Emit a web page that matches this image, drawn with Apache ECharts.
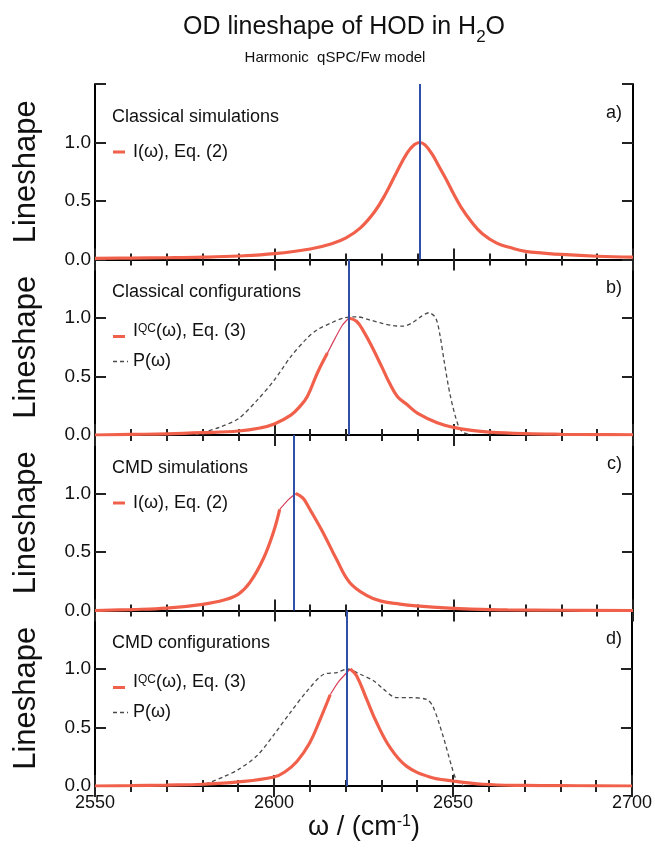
<!DOCTYPE html>
<html>
<head>
<meta charset="utf-8">
<script src="https://cdn.jsdelivr.net/npm/echarts@6/dist/echarts.min.js"></script>
<style>
  html, body { margin: 0; padding: 0; background: #fff; }
  #chart { width: 655px; height: 851px; }
</style>
</head>
<body>
<div id="chart"></div>
<script>
// ---- data ----
var panelTitles = ['Classical simulations', 'Classical configurations', 'CMD simulations', 'CMD configurations'];
var panelLetters = ['a)', 'b)', 'c)', 'd)'];
var xTicks = [2550, 2600, 2650, 2700];
var yTicks = [0.0, 0.5, 1.0];
var peakFreq = [2640.5, 2620.7, 2605.4, 2620.2];   // blue vertical lines
// stretch just left of each peak where the red curve is drawn thin in the figure
var thinFrom = [null, 2614.8, 2601.5, 2615.7];
var thinTo   = [null, 2620.8, 2606, 2621.3];

// a) classical simulations, I(w)
var aFreq = [2550, 2560, 2570, 2580, 2590, 2600, 2610, 2616, 2620, 2624, 2628, 2631, 2634, 2637, 2639, 2640.5, 2642, 2644, 2646, 2648, 2650, 2652, 2655, 2658, 2662, 2666, 2670, 2675, 2680, 2690, 2700];
var aI    = [0.01, 0.012, 0.015, 0.02, 0.03, 0.05, 0.09, 0.135, 0.185, 0.27, 0.41, 0.56, 0.74, 0.91, 0.98, 1.0, 0.98, 0.90, 0.79, 0.68, 0.56, 0.45, 0.32, 0.22, 0.14, 0.10, 0.07, 0.055, 0.043, 0.028, 0.02];

// b) classical configurations, I^QC(w) and P(w)
var bFreqI = [2550, 2560, 2570, 2580, 2590, 2596, 2600, 2604.6, 2607, 2609.2, 2612, 2614.8, 2617, 2619, 2620.8, 2623, 2625, 2626.8, 2630, 2632, 2634.3, 2637, 2640, 2645.4, 2650, 2655, 2660, 2670, 2680, 2690, 2700];
var bI     = [0.0, 0.005, 0.01, 0.02, 0.034, 0.06, 0.094, 0.17, 0.24, 0.33, 0.53, 0.70, 0.83, 0.94, 1.0, 0.97, 0.88, 0.78, 0.58, 0.45, 0.33, 0.26, 0.185, 0.105, 0.065, 0.04, 0.025, 0.012, 0.006, 0.003, 0.002];
var bFreqP = [2578, 2580, 2585, 2590, 2595.3, 2600, 2604.6, 2609.2, 2612, 2616, 2619.4, 2623, 2627, 2630, 2633, 2636, 2638.5, 2640.8, 2643.1, 2645, 2646.2, 2647.3, 2649.1, 2651.4, 2652.8, 2655];
var bP     = [0.0, 0.02, 0.07, 0.14, 0.30, 0.47, 0.67, 0.83, 0.90, 0.96, 1.0, 1.01, 0.98, 0.955, 0.935, 0.93, 0.96, 1.01, 1.045, 1.0, 0.85, 0.64, 0.33, 0.07, 0.02, 0.0];

// c) CMD simulations, I(w)
var cFreq = [2550, 2560, 2570, 2580, 2586, 2590, 2593.2, 2596.9, 2599.7, 2601.5, 2604, 2606, 2608, 2609.9, 2613.6, 2617.3, 2621, 2625.7, 2629.8, 2635, 2639.6, 2648.8, 2655, 2665, 2680, 2700];
var cI    = [0.0, 0.008, 0.02, 0.053, 0.09, 0.14, 0.24, 0.44, 0.665, 0.865, 0.95, 1.0, 0.96, 0.865, 0.665, 0.44, 0.24, 0.13, 0.08, 0.055, 0.04, 0.02, 0.012, 0.005, 0.002, 0.0];

// d) CMD configurations, I^QC(w) and P(w)
var dFreqI = [2550, 2560, 2570, 2580, 2590, 2600, 2603, 2606.4, 2610, 2612.9, 2615.7, 2618, 2621.3, 2623.1, 2625.9, 2628.7, 2632.4, 2637, 2643.5, 2650, 2658.4, 2670, 2685, 2700];
var dI     = [0.0, 0.003, 0.008, 0.015, 0.035, 0.077, 0.12, 0.21, 0.37, 0.57, 0.78, 0.89, 1.0, 0.94, 0.74, 0.54, 0.33, 0.17, 0.077, 0.043, 0.015, 0.005, 0.002, 0.0];
var dFreqP = [2579, 2582, 2586, 2590, 2595.3, 2600, 2604.6, 2609.2, 2613.9, 2617.6, 2620.4, 2624.1, 2627.8, 2630.5, 2634.2, 2637.9, 2642.6, 2644.4, 2647.2, 2649.6, 2651, 2653];
var dP     = [0.0, 0.03, 0.08, 0.14, 0.26, 0.44, 0.63, 0.81, 0.955, 0.97, 1.0, 0.955, 0.90, 0.83, 0.755, 0.755, 0.74, 0.68, 0.43, 0.17, 0.05, 0.0];

// ---- styling ----
var FONT = '"Liberation Sans", Arial, Helvetica, sans-serif';
var RED = '#f1604a';
var THIN = '#d8405a';
var BLUE = '#2f4fa8';
var GREY = '#4a4a4a';
var panelTop = [84, 259.5, 435, 610.5];
var panelH = 175.5;

function zip(xs, ys) {
    return xs.map(function (x, k) { return [x, ys[k]]; });
}

var myChart = echarts.init(document.getElementById('chart'));

var grids = [], xAxes = [], yAxes = [], series = [], graphics = [];

for (var i = 0; i < 4; i++) {
    grids.push({ left: 95, right: 22, top: panelTop[i], height: panelH });

    ['bottom', 'top'].forEach(function (pos) {
        xAxes.push({
            type: 'value', gridIndex: i, position: pos,
            min: xTicks[0], max: xTicks[xTicks.length - 1], interval: 50,
            axisLine: { show: true, lineStyle: { color: '#000', width: 2 } },
            axisTick: { show: true, inside: true, length: 11, lineStyle: { color: '#222', width: 2 } },
            minorTick: { show: true, splitNumber: 5, length: 6, lineStyle: { color: '#222', width: 2 } },
            splitLine: { show: false },
            axisLabel: {
                show: (i === 3 && pos === 'bottom'), margin: 8,
                fontFamily: FONT, fontSize: 18, color: '#111',
                formatter: function (v) { return String(v); }
            }
        });
    });
    ['left', 'right'].forEach(function (pos) {
        yAxes.push({
            type: 'value', gridIndex: i, position: pos,
            min: 0, max: 1.5, interval: 0.5,
            axisLine: { show: true, lineStyle: { color: '#000', width: 2 } },
            axisTick: { show: true, inside: true, length: 11, lineStyle: { color: '#222', width: 2 } },
            splitLine: { show: false },
            axisLabel: {
                show: pos === 'left', margin: 4,
                fontFamily: FONT, fontSize: 19, color: '#111',
                formatter: function (v) { return v > 1.2 ? '' : v.toFixed(1); }
            }
        });
    });

    // rotated y-axis title
    graphics.push({
        type: 'text', x: 26, y: panelTop[i] + panelH / 2, rotation: Math.PI / 2,
        style: { text: 'Lineshape', font: '31px ' + FONT, fill: '#111',
                 align: 'center', verticalAlign: 'middle', textAlign: 'center', textVerticalAlign: 'middle' }
    });
    // panel title
    graphics.push({
        type: 'text', x: 112, y: panelTop[i] + 33,
        style: { text: panelTitles[i], font: '18px ' + FONT, fill: '#111',
                 align: 'left', verticalAlign: 'middle', textAlign: 'left', textVerticalAlign: 'middle' }
    });
    // panel letter
    graphics.push({
        type: 'text', x: 622, y: panelTop[i] + 29,
        style: { text: panelLetters[i], font: '18px ' + FONT, fill: '#111',
                 align: 'right', verticalAlign: 'middle', textAlign: 'right', textVerticalAlign: 'middle' }
    });
}

var panelI = [zip(aFreq, aI), zip(bFreqI, bI), zip(cFreq, cI), zip(dFreqI, dI)];
var panelP = [null, zip(bFreqP, bP), null, zip(dFreqP, dP)];

for (var p = 0; p < 4; p++) {
    var lo = thinFrom[p], hi = thinTo[p];
    var thick = panelI[p].map(function (pt) {
        return (lo !== null && pt[0] > lo && pt[0] < hi) ? [pt[0], null] : pt;
    });
    series.push({
        type: 'line', xAxisIndex: 2 * p, yAxisIndex: 2 * p,
        data: thick, showSymbol: false, smooth: 0.4, connectNulls: false,
        lineStyle: { color: RED, width: 3.2 }, z: 3,
        markLine: {
            silent: true, symbol: 'none', label: { show: false },
            lineStyle: { color: BLUE, width: 2, type: 'solid' },
            data: [{ xAxis: peakFreq[p] }]
        }
    });
    if (lo !== null) {
        series.push({
            type: 'line', xAxisIndex: 2 * p, yAxisIndex: 2 * p,
            data: panelI[p].filter(function (pt) { return pt[0] >= lo && pt[0] <= hi; }),
            showSymbol: false, smooth: 0.2,
            lineStyle: { color: THIN, width: 1.2 }, z: 3
        });
    }
    if (panelP[p]) {
        series.push({
            type: 'line', xAxisIndex: 2 * p, yAxisIndex: 2 * p,
            data: panelP[p], showSymbol: false, smooth: 0.3,
            lineStyle: { color: GREY, width: 1.3, type: [4, 3] }, z: 2
        });
    }

    // legend entries
    var configPanel = (p === 1 || p === 3);
    var ly = panelTop[p] + (configPanel ? 77 : 68);
    graphics.push({
        type: 'line', shape: { x1: 113, y1: ly, x2: 125, y2: ly },
        style: { stroke: RED, lineWidth: 3 }
    });
    graphics.push({
        type: 'text', x: 133, y: ly,
        style: configPanel ? {
            text: '{n|I}{s|QC}{n|(\u03c9), Eq. (3)}',
            rich: {
                n: { fontFamily: FONT, fontSize: 18, lineHeight: 28, verticalAlign: 'top', fill: '#111', color: '#111' },
                s: { fontFamily: FONT, fontSize: 12, verticalAlign: 'top', fill: '#111', color: '#111' }
            },
            align: 'left', verticalAlign: 'middle', textAlign: 'left', textVerticalAlign: 'middle'
        } : {
            text: 'I(\u03c9), Eq. (2)', font: '18px ' + FONT, fill: '#111',
            align: 'left', verticalAlign: 'middle', textAlign: 'left', textVerticalAlign: 'middle'
        }
    });
    if (configPanel) {
        graphics.push({
            type: 'line', shape: { x1: 113, y1: panelTop[p] + 102, x2: 128, y2: panelTop[p] + 102 },
            style: { stroke: GREY, lineWidth: 1.3, lineDash: [4, 3] }
        });
        graphics.push({
            type: 'text', x: 133, y: panelTop[p] + 102,
            style: { text: 'P(\u03c9)', font: '18px ' + FONT, fill: '#111',
                     align: 'left', verticalAlign: 'middle', textAlign: 'left', textVerticalAlign: 'middle' }
        });
    }
}

// title, subtitle, x-axis name
graphics.push({
    type: 'text', x: 344, y: 30,
    style: {
        text: '{t|OD lineshape of HOD in H}{s|2}{t|O}',
        rich: {
            t: { fontFamily: FONT, fontSize: 25, lineHeight: 28, verticalAlign: 'top', fill: '#111', color: '#111' },
            s: { fontFamily: FONT, fontSize: 17, padding: [14, 0, 0, 0], verticalAlign: 'top', fill: '#111', color: '#111' }
        },
        align: 'center', verticalAlign: 'middle', textAlign: 'center', textVerticalAlign: 'middle'
    }
});
graphics.push({
    type: 'text', x: 335, y: 58,
    style: { text: 'Harmonic  qSPC/Fw model', font: '15px ' + FONT, fill: '#111',
             align: 'center', verticalAlign: 'middle', textAlign: 'center', textVerticalAlign: 'middle' }
});
graphics.push({
    type: 'text', x: 364, y: 830,
    style: {
        text: '{n|\u03c9 / (cm}{s|-1}{n|)}',
        rich: {
            n: { fontFamily: FONT, fontSize: 27, lineHeight: 32, verticalAlign: 'top', fill: '#111', color: '#111' },
            s: { fontFamily: FONT, fontSize: 16, verticalAlign: 'top', fill: '#111', color: '#111' }
        },
        align: 'center', verticalAlign: 'middle', textAlign: 'center', textVerticalAlign: 'middle'
    }
});

var option = {
    animation: false,
    backgroundColor: '#fff',
    grid: grids,
    xAxis: xAxes,
    yAxis: yAxes,
    series: series,
    graphic: graphics
};

myChart.setOption(option);
</script>
</body>
</html>
